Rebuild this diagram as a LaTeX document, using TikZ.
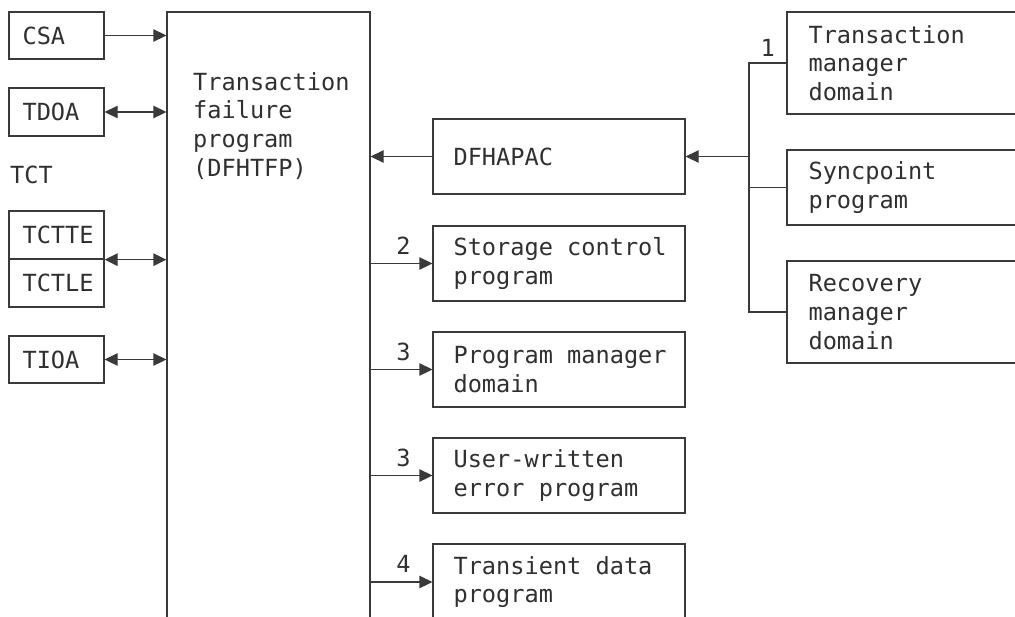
\documentclass[tikz,border=0pt]{standalone}
\usepackage{fontspec}
\newfontfamily\diagfont{DejaVu Sans Mono}
\usetikzlibrary{arrows.meta,calc}
\definecolor{lincol}{HTML}{3A3A3A}
\definecolor{txtcol}{HTML}{303030}
\tikzset{
  boxnode/.style={draw=lincol, line width=1.3pt, rectangle, inner sep=0pt},
  txt/.style={inner sep=0pt, align=left, text=txtcol,
    font=\diagfont\fontsize{23.6}{28.8}\selectfont},
  lbl/.style={inner sep=0pt, text=txtcol,
    font=\diagfont\fontsize{23.6}{28.8}\selectfont},
  conn/.style={draw=lincol, line width=1.3pt},
  arr/.style={conn, -{Triangle[length=13pt,width=12.5pt]}},
  darr/.style={conn, {Triangle[length=13pt,width=12.5pt]}-{Triangle[length=13pt,width=12.5pt]}},
}
\begin{document}
\begin{tikzpicture}[x=1pt,y=-1pt]
\useasboundingbox (0,0) rectangle (1015,616);
\clip (0,0) rectangle (1015,616);
\fill[white] (0,0) rectangle (1015,616);

% left column
\node[boxnode, minimum width=95pt, minimum height=47pt] (csa) at (56.5,35.5) {};
\node[txt, anchor=west] (csat) at ([xshift=14pt]csa.west) {CSA};
\node[boxnode, minimum width=95pt, minimum height=48pt] (tdoa) at (56.5,112) {};
\node[txt, anchor=west] (tdoat) at ([xshift=14pt]tdoa.west) {TDOA};
\node[txt, anchor=west] (tct) at (10,175) {TCT};
\node[boxnode, minimum width=95pt, minimum height=48pt] (tctte) at (56.5,235) {};
\node[txt, anchor=west] (tcttet) at ([xshift=14pt]tctte.west) {TCTTE};
\node[boxnode, minimum width=95pt, minimum height=48pt] (tctle) at (56.5,283) {};
\node[txt, anchor=west] (tctlet) at ([xshift=14pt]tctle.west) {TCTLE};
\node[boxnode, minimum width=95pt, minimum height=47pt] (tioa) at (56.5,359.5) {};
\node[txt, anchor=west] (tioat) at ([xshift=14pt]tioa.west) {TIOA};

% main box
\node[boxnode, minimum width=203pt, minimum height=688pt] (main) at (268.5,356) {};
\node[txt, anchor=north west] (maint) at (193,72) {Transaction\\failure\\program\\(DFHTFP)};

% middle column
\node[boxnode, minimum width=252pt, minimum height=75pt] (apac) at (559,156.5) {};
\node[txt, anchor=west] (apact) at ([xshift=21pt]apac.west) {DFHAPAC};
\node[boxnode, minimum width=252pt, minimum height=75pt] (sc) at (559,263.5) {};
\node[txt, anchor=west] (sct) at ([xshift=21pt]sc.west) {Storage control\\program};
\node[boxnode, minimum width=252pt, minimum height=75pt] (pm) at (559,369.5) {};
\node[txt, anchor=west] (pmt) at ([xshift=21pt]pm.west) {Program manager\\domain};
\node[boxnode, minimum width=252pt, minimum height=75pt] (uw) at (559,475.5) {};
\node[txt, anchor=west] (uwt) at ([xshift=21pt]uw.west) {User-written\\error program};
\node[boxnode, minimum width=252pt, minimum height=76pt] (td) at (559,582) {};
\node[txt, anchor=west] (tdt) at ([xshift=21pt]td.west) {Transient data\\program};

% right column
\node[boxnode, minimum width=313pt, minimum height=102pt] (tm) at (943.5,63) {};
\node[txt, anchor=west] (tmt) at ([xshift=22pt]tm.west) {Transaction\\manager\\domain};
\node[boxnode, minimum width=313pt, minimum height=75pt] (sync) at (943.5,187.5) {};
\node[txt, anchor=west] (synct) at ([xshift=22pt]sync.west) {Syncpoint\\program};
\node[boxnode, minimum width=313pt, minimum height=102pt] (rec) at (943.5,312) {};
\node[txt, anchor=west] (rect) at ([xshift=22pt]rec.west) {Recovery\\manager\\domain};

% left connectors
\draw[arr] (csa.east) -- (main.west |- csa.east);
\draw[darr] (tdoa.east) -- (main.west |- tdoa.east);
\draw[darr] (tctte.south east) -- (main.west |- tctte.south east);
\draw[darr] (tioa.east) -- (main.west |- tioa.east);

% middle connectors
\draw[arr] (apac.west) -- (main.east |- apac.west);
\draw[arr] (main.east |- sc.west) -- node[lbl, above=8.5pt, xshift=2pt] {2} (sc.west);
\draw[arr] (main.east |- pm.west) -- node[lbl, above=8.5pt, xshift=2pt] {3} (pm.west);
\draw[arr] (main.east |- uw.west) -- node[lbl, above=8.5pt, xshift=2pt] {3} (uw.west);
\draw[arr] (main.east |- td.west) -- node[lbl, above=8.5pt, xshift=2pt] {4} (td.west);

% right bus
\coordinate (bx) at (749,0);
\draw[conn] (tm.west) -- node[lbl, above=6pt] {1} (bx |- tm.west) -- (bx |- rec.west) -- (rec.west);
\draw[conn] (bx |- sync.west) -- (sync.west);
\draw[arr] (bx |- apac.east) -- (apac.east);
\end{tikzpicture}
\end{document}
